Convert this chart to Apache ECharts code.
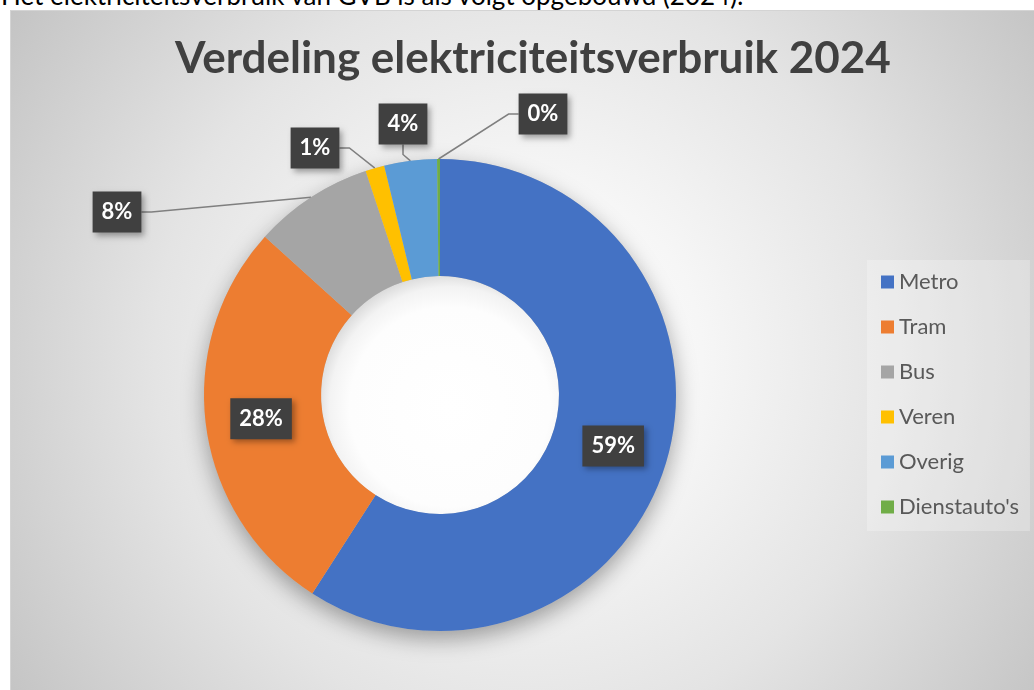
<!DOCTYPE html>
<html>
<head>
<meta charset="utf-8">
<script src="https://cdn.jsdelivr.net/npm/echarts@6/dist/echarts.min.js"></script>
<style>
  html, body { margin: 0; padding: 0; width: 1034px; height: 690px; overflow: hidden; background: #fff; }
  .intro {
    position: absolute; left: 1px; top: -18px;
    font-family: Lato, 'Open Sans', sans-serif; font-size: 26px; line-height: 26px; color: #000;
    white-space: nowrap;
  }
  .plot-bg {
    position: absolute; left: 10px; top: 10px; width: 1034px; height: 690px;
    border-left: 1px solid #d4d4d4; border-top: 1px solid #d4d4d4;
    background: radial-gradient(circle farthest-corner at 50% 50%, #ffffff 0%, #f6f6f6 28%, #e4e4e4 60%, #c4c4c4 100%);
  }
  #chart { position: absolute; left: 0; top: 0; width: 1034px; height: 690px; }
</style>
</head>
<body>
<div class="intro">Het elektriciteitsverbruik van GVB is als volgt opgebouwd (2024):</div>
<div class="plot-bg"></div>
<div id="chart"></div>
<script>
// aandeel per onderdeel (procent)
const categories = ['Metro', 'Tram', 'Bus', 'Veren', 'Overig', "Dienstauto's"]
const shares = [59.1, 27.6, 8.2, 1.3, 3.6, 0.2]
const colors = ['#4472C4', '#ED7D31', '#A5A5A5', '#FFC000', '#5B9BD5', '#70AD47']

// labels die binnen de ring staan, de rest gaat naar buiten
const insideLabels = ['Metro', 'Tram']
// plek van de buitenste labels (midden van het kader)
const outsideLabelPos = {
  Bus: [117, 212],
  Veren: [315, 148],
  Overig: [403, 124],
  "Dienstauto's": [543, 114]
}

const total = shares.reduce((a, b) => a + b, 0)
const font = 'Lato, "Open Sans", sans-serif'
const center = [440, 395]

const chart = echarts.init(document.getElementById('chart'), null, { renderer: 'canvas' })

const option = {
  animation: false,
  title: {
    text: 'Verdeling elektriciteitsverbruik 2024',
    left: 528,
    top: 32,
    textAlign: 'center',
    textStyle: { fontFamily: font, fontSize: 44, fontWeight: 'bold', color: '#404040' }
  },
  legend: {
    orient: 'vertical',
    left: 867,
    top: 260,
    padding: [11, 11, 13, 14],
    backgroundColor: 'rgba(255,255,255,0.25)',
    itemWidth: 13,
    itemHeight: 13,
    itemGap: 23,
    icon: 'rect',
    data: categories,
    textStyle: { fontFamily: font, fontSize: 22, color: '#595959' }
  },
  series: [
    {
      // schaduw onder de ring
      type: 'pie',
      silent: true,
      z: 1,
      center: center,
      radius: [119, 236],
      label: { show: false },
      labelLine: { show: false },
      itemStyle: {
        color: '#bdbdbd',
        shadowColor: 'rgba(0,0,0,0.35)',
        shadowBlur: 22,
        shadowOffsetY: 8
      },
      data: [{ name: 'schaduw', value: total }]
    },
    {
      // binnenschaduw van het gat
      type: 'pie',
      silent: true,
      z: 1,
      center: center,
      radius: [0, 119],
      label: { show: false },
      labelLine: { show: false },
      itemStyle: {
        color: {
          type: 'radial', x: 0.54, y: 0.55, r: 0.56,
          colorStops: [
            { offset: 0, color: '#ffffff' },
            { offset: 0.75, color: '#fdfdfd' },
            { offset: 0.9, color: '#f3f3f3' },
            { offset: 1, color: '#dcdcdc' }
          ]
        }
      },
      data: [{ name: 'gat', value: total }]
    },
    {
      type: 'pie',
      z: 3,
      center: center,
      radius: [119, 236],
      startAngle: 90,
      clockwise: true,
      percentPrecision: 0,
      avoidLabelOverlap: false,
      label: {
        show: true,
        position: 'outside',
        formatter: '{d}%',
        fontFamily: font,
        fontSize: 22,
        fontWeight: 'bold',
        color: '#ffffff',
        backgroundColor: '#404040',
        padding: [10, 9, 9, 9],
        shadowColor: 'rgba(0,0,0,0.35)',
        shadowBlur: 6,
        shadowOffsetX: 3,
        shadowOffsetY: 3
      },
      labelLine: {
        show: true,
        length: 20,
        length2: 10,
        lineStyle: { color: '#7f7f7f', width: 1.5 }
      },
      labelLayout: function (params) {
        const p = outsideLabelPos[categories[params.dataIndex]]
        if (!p) return {}
        return { x: p[0], y: p[1], align: 'center', verticalAlign: 'middle' }
      },
      emphasis: { scale: false },
      data: categories.map((name, i) => ({
        name: name,
        value: shares[i],
        itemStyle: { color: colors[i] },
        label: insideLabels.includes(name) ? { position: 'inside' } : {},
        labelLine: insideLabels.includes(name) ? { show: false } : {}
      }))
    }
  ]
}

chart.setOption(option)
</script>
</body>
</html>
